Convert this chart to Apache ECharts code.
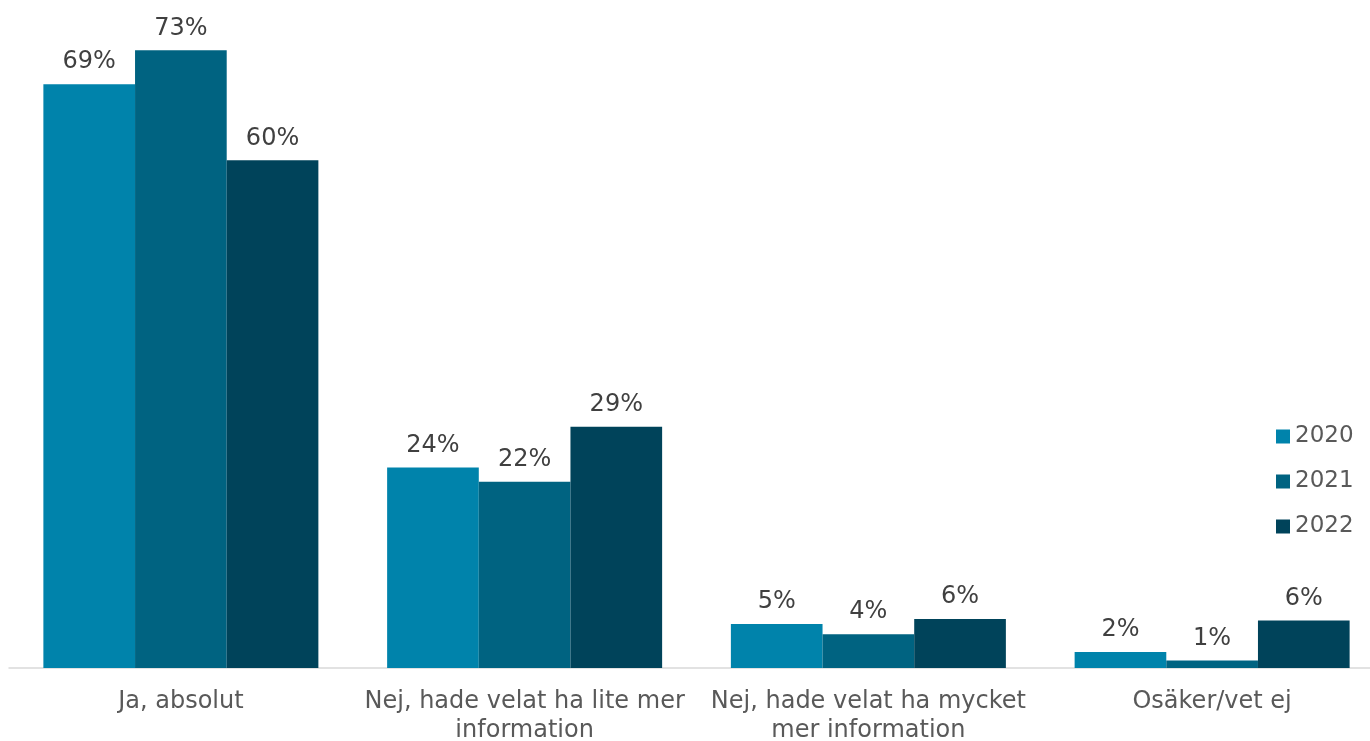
<!DOCTYPE html>
<html>
<head>
<meta charset="utf-8">
<script src="https://cdn.jsdelivr.net/npm/echarts@6/dist/echarts.min.js"></script>
<style>
  html, body { margin: 0; padding: 0; background: #fff; }
  #chart { width: 1370px; height: 741px; }
</style>
</head>
<body>
<div id="chart"></div>
<script>
const categories = [
  'Ja, absolut',
  'Nej, hade velat ha lite mer\ninformation',
  'Nej, hade velat ha mycket\nmer information',
  'Osäker/vet ej'
]
const years = ['2020', '2021', '2022']
const values2020 = [69, 23.7, 5.2, 1.9]
const values2021 = [73, 22.0, 4.0, 0.9]
const values2022 = [60, 28.5, 5.8, 5.6]
const colors = ['#0083AB', '#006381', '#00435A']

const font = 'DejaVu Sans, Verdana, sans-serif'
const seriesData = [values2020, values2021, values2022]

var myChart = echarts.init(document.getElementById('chart'))
var options = {
  animation: false,
  color: colors,
  grid: {
    left: 9,
    right: -14,
    top: 8,
    bottom: 73,
    containLabel: false,
    outerBoundsMode: 'none'
  },
  legend: {
    orient: 'vertical',
    left: 1276,
    top: 425,
    padding: 0,
    itemWidth: 14,
    itemHeight: 14,
    itemGap: 22,
    icon: 'rect',
    textStyle: { fontFamily: font, fontSize: 23, color: '#595959' },
    data: years
  },
  xAxis: {
    type: 'category',
    data: categories,
    axisTick: { show: false },
    axisLine: { lineStyle: { color: '#D9D9D9', width: 1.5 } },
    axisLabel: {
      interval: 0,
      margin: 19,
      fontFamily: font,
      fontSize: 24,
      lineHeight: 29,
      color: '#595959'
    }
  },
  yAxis: {
    type: 'value',
    min: 0,
    max: 78,
    show: false,
    splitLine: { show: false }
  },
  series: years.map((y, i) => ({
    name: y,
    type: 'bar',
    data: seriesData[i],
    barGap: '0%',
    barCategoryGap: '20%',
    label: {
      show: true,
      position: 'top',
      distance: 10,
      fontFamily: font,
      fontSize: 24,
      color: '#404040',
      formatter (p) {
        return Math.round(p.value) + '%'
      }
    }
  }))
}
myChart.setOption(options)
</script>
</body>
</html>
